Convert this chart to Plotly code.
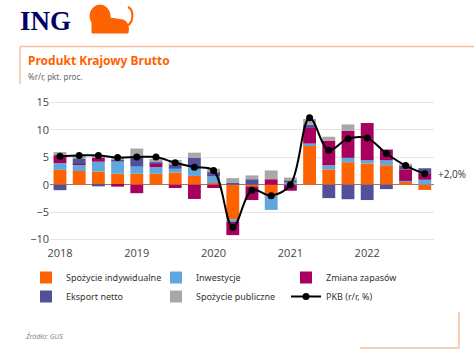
import plotly.graph_objects as go

# ---------------- data ----------------
quarters = ["2018Q1", "2018Q2", "2018Q3", "2018Q4",
            "2019Q1", "2019Q2", "2019Q3", "2019Q4",
            "2020Q1", "2020Q2", "2020Q3", "2020Q4",
            "2021Q1", "2021Q2", "2021Q3", "2021Q4",
            "2022Q1", "2022Q2", "2022Q3", "2022Q4"]
year_ticks = ["2018Q1", "2019Q1", "2020Q1", "2021Q1", "2022Q1"]
year_labels = ["2018", "2019", "2020", "2021", "2022"]

spozycie_ind = [2.7, 2.5, 2.4, 2.0, 2.0, 2.0, 2.2, 1.6, 0.3, -6.3,
                -0.3, -2.0, 0.1, 7.2, 2.8, 4.1, 3.85, 3.55, 0.5, -0.95]
inwestycje = [1.25, 1.1, 1.8, 2.2, 1.3, 1.2, 0.7, 1.55, 1.2, -0.5,
              0.0, -2.6, 0.3, 0.3, 0.75, 0.8, 0.6, 0.9, 0.2, 0.9]
zapasy = [1.45, 0.2, 0.7, -0.35, -1.55, 0.7, -0.6, -2.6, -0.6, -2.4,
          -2.5, 1.0, -1.1, 2.85, 4.5, 4.95, 6.8, 1.9, 2.1, 1.2]
eksport = [-1.0, 1.0, -0.3, 0.4, 1.8, 0.2, 0.8, 1.8, 0.8, 0.4,
           1.0, 0.0, 0.4, 0.6, -2.45, -2.65, -2.8, -0.8, 0.7, 0.9]
spozycie_pub = [0.55, 0.6, 0.25, 0.2, 1.5, 0.6, 0.8, 0.9, 0.6, 0.8,
                0.7, 1.6, 0.5, 1.05, 0.7, 1.15, 0.0, 0.1, 0.1, 0.0]
pkb = [5.2, 5.35, 5.35, 4.95, 5.05, 5.05, 4.0, 3.2, 2.6, -7.8,
       -1.0, -2.0, 0.0, 12.2, 6.3, 8.4, 8.5, 5.7, 3.5, 2.0]

series = [
    ("Spożycie indywidualne", spozycie_ind, "#FF6200"),
    ("Inwestycje", inwestycje, "#5EA8DE"),
    ("Zmiana zapasów", zapasy, "#A8005F"),
    ("Eksport netto", eksport, "#52509A"),
    ("Spożycie publiczne", spozycie_pub, "#A8A8A8"),
]

# ---------------- layout geometry (pixels) ----------------
W, H = 474, 355
ML, MR, MT, MB = 50, 40, 97, 110
PW, PH = W - ML - MR, H - MT - MB


def px(x):
    return (x - ML) / PW


def py(y):
    return (H - MB - y) / PH


fig = go.Figure()
for name, vals, col in series:
    fig.add_trace(go.Bar(x=quarters, y=vals, name=name, marker_color=col,
                         marker_line_width=0))

fig.add_trace(go.Scatter(x=quarters, y=pkb, name="PKB (r/r, %)",
                         mode="lines+markers",
                         line=dict(color="black", width=2, shape="spline", smoothing=1),
                         marker=dict(color="black", size=7)))

fig.update_layout(
    width=W, height=H,
    margin=dict(l=ML, r=MR, t=MT, b=MB, autoexpand=False),
    paper_bgcolor="white", plot_bgcolor="white",
    barmode="relative", bargap=0.33,
    font=dict(family="Open Sans", size=11, color="#444"),
    showlegend=True,
    legend=dict(orientation="h", x=px(26), y=py(263), xanchor="left", yanchor="top",
                entrywidth=85, entrywidthmode="pixels", itemwidth=30,
                font=dict(family="Noto Sans", size=9, color="#333"),
                traceorder="normal"),
    xaxis=dict(type="category", categoryorder="array", categoryarray=quarters,
               tickmode="array", tickvals=year_ticks, ticktext=year_labels,
               showgrid=False, showline=False, ticks="", range=[-0.52, 19.48],
               tickfont=dict(size=11, color="#444")),
    yaxis=dict(range=[-11, 16], tickmode="array", tickvals=[-10, -5, 0, 5, 10, 15],
               showgrid=True, gridcolor="#E6E6E6", gridwidth=1,
               zeroline=True, zerolinecolor="#8F7D72", zerolinewidth=1.3,
               showline=False, ticks="", tickfont=dict(size=11, color="#444")),
)

# last-value label
fig.add_annotation(x=quarters[-1], y=pkb[-1], text="+2,0%", showarrow=False,
                   xanchor="left", xshift=11, font=dict(size=10, color="#333"))

# titles
fig.add_annotation(xref="paper", yref="paper", x=px(26), y=py(60), text="<b>Produkt Krajowy Brutto</b>",
                   showarrow=False, xanchor="left", yanchor="middle",
                   font=dict(family="Noto Sans", size=12, color="#FF6200"))
fig.add_annotation(xref="paper", yref="paper", x=px(26), y=py(76), text="%r/r, pkt. proc.",
                   showarrow=False, xanchor="left", yanchor="middle",
                   font=dict(family="Noto Sans", size=8, color="#666"))
fig.add_annotation(xref="paper", yref="paper", x=px(23), y=py(336), text="<i>Źródło: GUS</i>",
                   showarrow=False, xanchor="left", yanchor="middle",
                   font=dict(family="Noto Sans", size=7, color="#888"))
# ING logo text
fig.add_annotation(xref="paper", yref="paper", x=px(18), y=py(21), text="<b>ING</b>",
                   showarrow=False, xanchor="left", yanchor="middle",
                   font=dict(family="Liberation Serif", size=27, color="#000066"))

# frame lines
frame_col = "#F5C0A0"
fig.add_shape(type="line", xref="paper", yref="paper", x0=px(20), x1=px(474), y0=py(46.5), y1=py(46.5),
              line=dict(color=frame_col, width=1.5))
fig.add_shape(type="line", xref="paper", yref="paper", x0=px(20), x1=px(20), y0=py(46.5), y1=py(84),
              line=dict(color=frame_col, width=1.5))
fig.add_shape(type="line", xref="paper", yref="paper", x0=px(459), x1=px(459), y0=py(312), y1=py(348),
              line=dict(color=frame_col, width=1.5))
fig.add_shape(type="line", xref="paper", yref="paper", x0=px(360), x1=px(459), y0=py(348), y1=py(348),
              line=dict(color=frame_col, width=1.5))

# simple lion emblem
lion = "#FF6200"


def P(x, y):
    return f"{px(x)},{py(y)}"


fig.add_shape(type="path", xref="paper", yref="paper", fillcolor=lion, line=dict(color=lion, width=1),
              path=f"M{P(92,33)} L{P(92,20)} C{P(92,8)},{P(110,6)},{P(110,18)} "
                   f"L{P(123,20)} C{P(128,21)},{P(129,28)},{P(128,33)} Z")
fig.add_shape(type="circle", xref="paper", yref="paper", fillcolor=lion, line=dict(color=lion, width=1),
              x0=px(90), x1=px(110), y0=py(27), y1=py(5))
fig.add_shape(type="path", xref="paper", yref="paper", line=dict(color=lion, width=2),
              path=f"M{P(127,26)} C{P(134,22)},{P(134,10)},{P(128,7)}")

# remove the default page margin so the figure sits at the window's top-left corner
fig.write_html("out.html", config={"displayModeBar": False},
               post_script="document.body.style.margin='0';")
